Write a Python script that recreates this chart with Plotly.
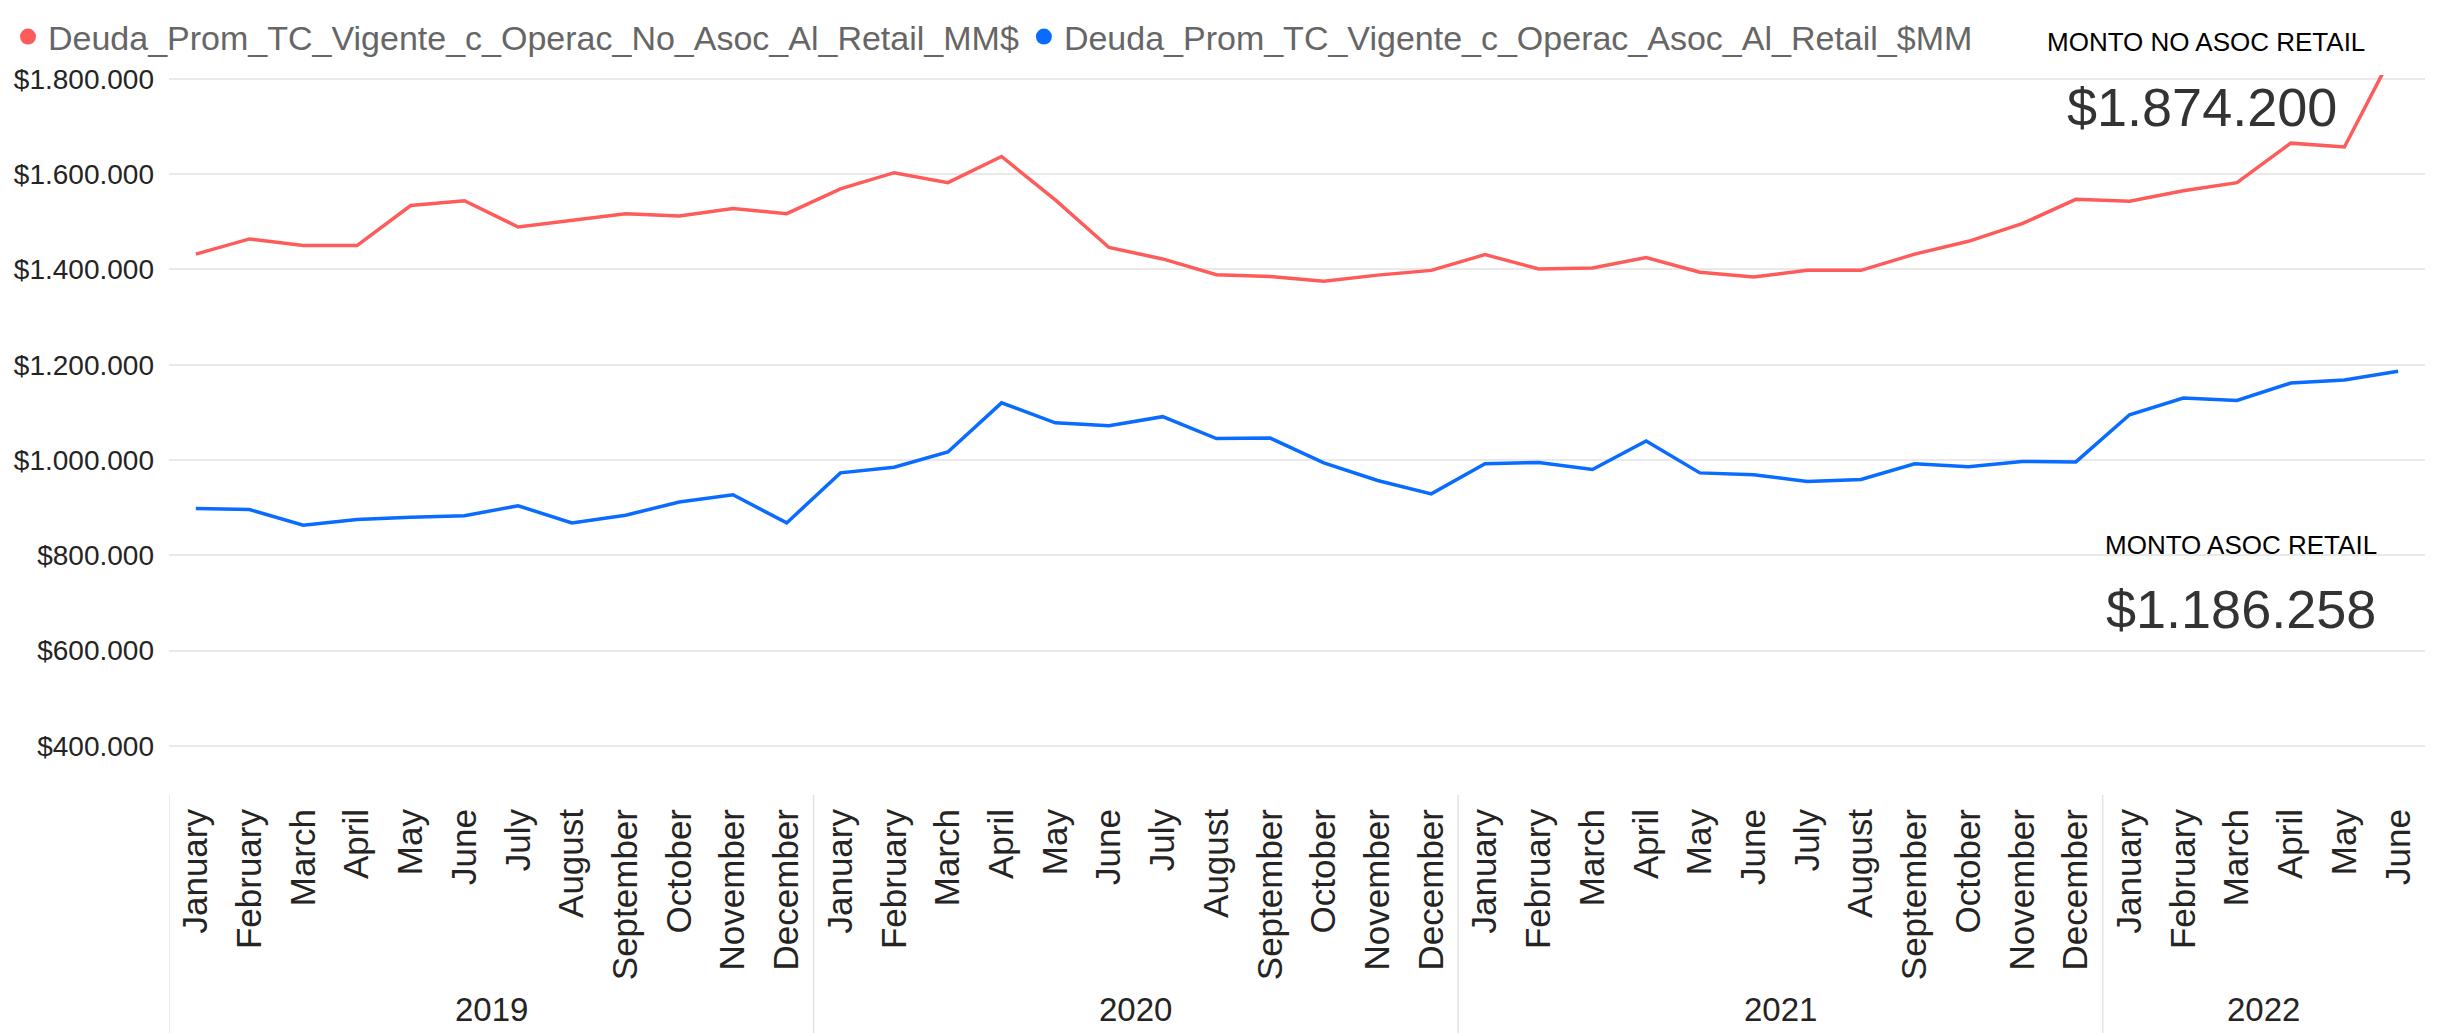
import plotly.graph_objects as go

months = ["January", "February", "March", "April", "May", "June", "July", "August",
          "September", "October", "November", "December"]
years_list = ["2019"] * 12 + ["2020"] * 12 + ["2021"] * 12 + ["2022"] * 6
months_list = months * 3 + months[:6]

no_asoc = [1432000, 1464000, 1450000, 1450000, 1534000, 1544000, 1489000, 1503000, 1517000, 1512000, 1528000, 1517000,
           1569000, 1603000, 1582000, 1637000, 1546000, 1446000, 1422000, 1389000, 1385000, 1375000, 1388000, 1398000,
           1431000, 1401000, 1403000, 1425000, 1394000, 1384000, 1398000, 1398000, 1432000, 1459000, 1496000, 1547000,
           1543000, 1565000, 1582000, 1665000, 1657000, 1874200]
asoc = [898000, 896000, 863000, 875000, 880000, 883000, 904000, 868000, 884000, 912000, 927000, 868000,
        973000, 985000, 1017000, 1120000, 1078000, 1072000, 1091000, 1045000, 1046000, 994000, 957000, 929000,
        992000, 995000, 980000, 1040000, 973000, 969000, 955000, 959000, 992000, 986000, 997000, 996000,
        1095000, 1130000, 1125000, 1161500, 1168000, 1186258]

name_no = "Deuda_Prom_TC_Vigente_c_Operac_No_Asoc_Al_Retail_MM$"
name_as = "Deuda_Prom_TC_Vigente_c_Operac_Asoc_Al_Retail_$MM"
red = "#FD5C5A"
blue = "#0A6CFF"

def money(v):
    return "$" + f"{int(round(v)):,}".replace(",", ".")

idx = list(range(len(months_list)))

fig = go.Figure()
fig.add_trace(go.Scatter(x=idx, y=no_asoc, mode="lines", customdata=years_list,
                         line=dict(color=red, width=3.5), showlegend=False, name=name_no))
fig.add_trace(go.Scatter(x=idx, y=asoc, mode="lines", customdata=years_list,
                         line=dict(color=blue, width=3.5), showlegend=False, name=name_as))
# legend entries (dot symbols)
fig.add_trace(go.Scatter(x=[None], y=[None], mode="markers", name=name_no,
                         marker=dict(color=red, size=19, symbol="circle")))
fig.add_trace(go.Scatter(x=[None], y=[None], mode="markers", name=name_as,
                         marker=dict(color=blue, size=19, symbol="circle")))

FONT = "Liberation Sans, Arial, sans-serif"

# page has an 8px body margin: the figure is offset by 8px
OFF = 8
L, W, B, H = 169, 2256, 795, 720   # plot area in page pixels
PAGE_H = 1033
def px(x):
    return (x - L) / W
def py(y):
    return (B - y) / H

fig_w, fig_h = 2437 - OFF, PAGE_H - OFF
fig.update_layout(
    width=fig_w, height=fig_h,
    margin=dict(l=L - OFF, r=fig_w - (L - OFF + W), t=75 - OFF, b=fig_h - (B - OFF), autoexpand=False),
    paper_bgcolor="white", plot_bgcolor="white",
    separators=",.",
    font=dict(family=FONT, color="#252423"),
    showlegend=True,
    legend=dict(orientation="h", xref="container", x=0.0, yref="container", y=1.0,
                xanchor="left", yanchor="top", font=dict(size=34, color="#666666", family=FONT),
                bgcolor="rgba(0,0,0,0)", itemclick=False),
    xaxis=dict(range=[-0.5, len(idx) - 0.5], autorange=False, automargin=False,
               tickmode="array", tickvals=idx, ticktext=months_list,
               tickangle=-90, tickfont=dict(size=35, color="#252423"), ticklabelstandoff=6,
               showgrid=False, showline=False, ticks="", zeroline=False),
    yaxis=dict(range=[297000, 1808000], autorange=False, automargin=False,
               tick0=0, dtick=200000, tickprefix="$", tickformat=",.0f",
               showgrid=True, gridcolor="#e9e9e9", gridwidth=1.5, zeroline=False, showline=False,
               tickfont=dict(size=28, color="#252423"), ticklabelstandoff=14),
)

# year group labels and dividers
groups = []
for i, yv in enumerate(years_list):
    if not groups or groups[-1][0] != yv:
        groups.append([yv, i, i])
    else:
        groups[-1][2] = i
for yv, i0, i1 in groups:
    fig.add_annotation(text=yv, xref="x", yref="paper", x=(i0 + i1) / 2, y=py(1009),
                       xanchor="center", yanchor="middle", showarrow=False,
                       font=dict(size=33, color="#252423", family=FONT))
    fig.add_shape(type="line", xref="x", yref="paper", x0=i0 - 0.5, x1=i0 - 0.5,
                  y0=0, y1=py(PAGE_H), line=dict(color="#e3e3e3", width=1.5))

anns = [
    ("MONTO NO ASOC RETAIL", 2367, 42, 26, "#000000"),
    (money(no_asoc[-1]), 2339, 107, 54, "#333333"),
    ("MONTO ASOC RETAIL", 2379, 545, 26, "#000000"),
    (money(asoc[-1]), 2378, 609, 54, "#333333"),
]
for text, xr, yc, size, col in anns:
    fig.add_annotation(text=text, xref="paper", yref="paper", x=px(xr), y=py(yc),
                       xanchor="right", yanchor="middle", showarrow=False,
                       font=dict(size=size, color=col, family=FONT))

fig.write_html("out.html")
